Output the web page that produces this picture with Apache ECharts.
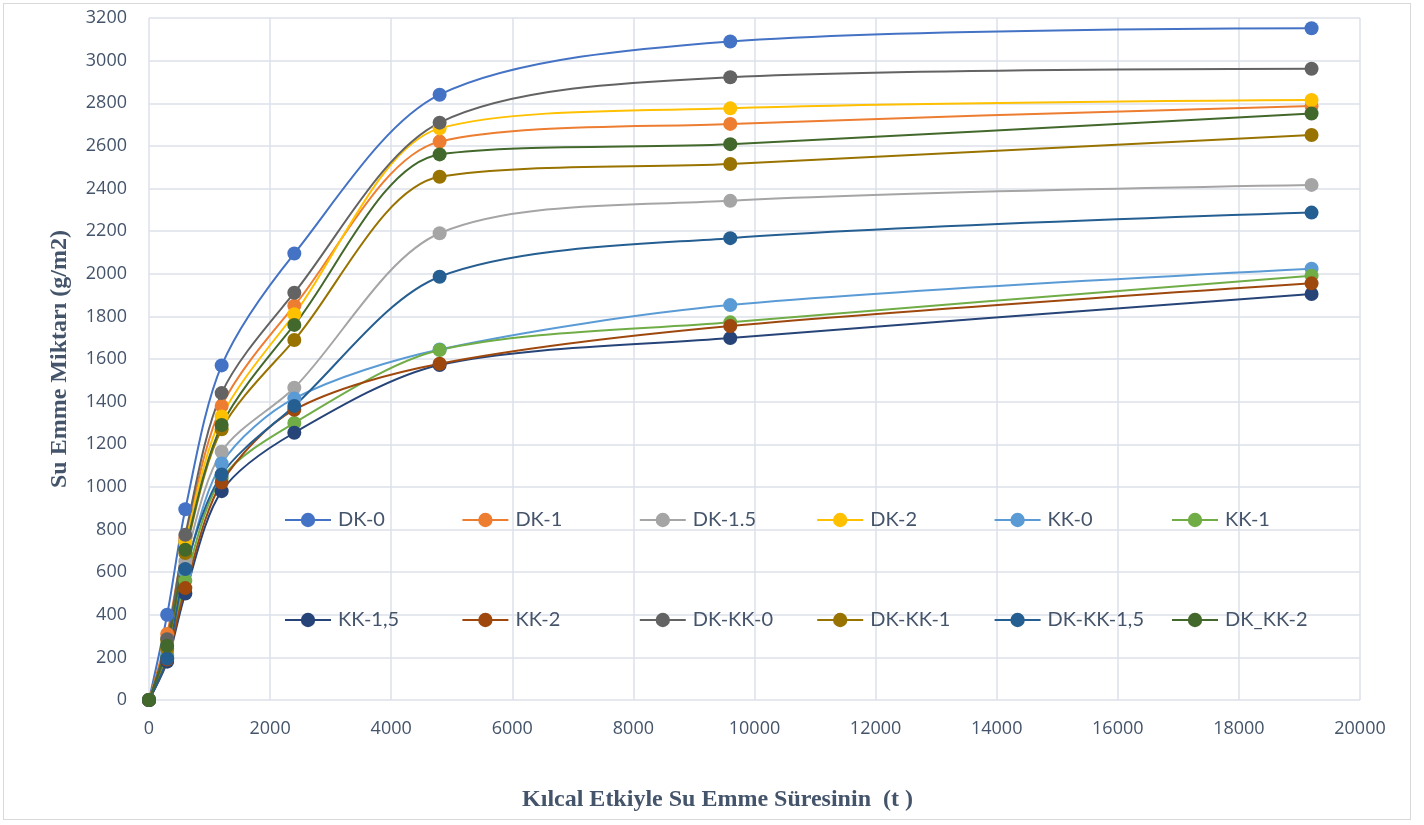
<!DOCTYPE html>
<html><head><meta charset="utf-8">
<script src="https://cdn.jsdelivr.net/npm/echarts@6/dist/echarts.min.js"></script>
<style>html,body{margin:0;padding:0;background:#fff}#c{width:1424px;height:825px}#frame{position:absolute;left:3px;top:3px;width:1406px;height:815px;border:1px solid #d9d9d9;pointer-events:none}</style>
</head><body><div id="c"></div><div id="frame"></div>
<script>
const times = [0, 300, 600, 1200, 2400, 4800, 9600, 19200];
const seriesNames = ['DK-0','DK-1','DK-1.5','DK-2','KK-0','KK-1','KK-1,5','KK-2','DK-KK-0','DK-KK-1','DK-KK-1,5','DK_KK-2'];
const DK0   = [0, 400, 895, 1570, 2095, 2840, 3090, 3152];
const DK1   = [0, 310, 760, 1380, 1850, 2620, 2703, 2787];
const DK15  = [0, 230, 650, 1165, 1465, 2190, 2342, 2417];
const DK2   = [0, 280, 740, 1330, 1810, 2682, 2776, 2815];
const KK0   = [0, 210, 600, 1110, 1415, 1645, 1853, 2024];
const KK1   = [0, 200, 560, 1040, 1300, 1642, 1772, 1991];
const KK15  = [0, 180, 500, 980, 1254, 1572, 1698, 1905];
const KK2   = [0, 190, 525, 1020, 1362, 1578, 1755, 1955];
const DKKK0 = [0, 285, 775, 1440, 1911, 2709, 2922, 2962];
const DKKK1 = [0, 240, 690, 1270, 1689, 2455, 2515, 2651];
const DKKK15= [0, 195, 615, 1058, 1380, 1986, 2167, 2287];
const DKKK2 = [0, 255, 705, 1290, 1760, 2560, 2608, 2752];
const allValues = [DK0, DK1, DK15, DK2, KK0, KK1, KK15, KK2, DKKK0, DKKK1, DKKK15, DKKK2];
const colors = ['#4472C4','#ED7D31','#A5A5A5','#FFC000','#5B9BD5','#70AD47','#264478','#9E480E','#636363','#997300','#255E91','#43682B'];
const xTitle = 'Kılcal Etkiyle Su Emme Süresinin  (t )';
const yTitle = 'Su Emme Miktarı (g/m2)';

const series = seriesNames.map((n, i) => ({
  name: n, type: 'line', smooth: 0.3,
  data: times.map((t, j) => [t, allValues[i][j]]),
  symbol: 'circle', symbolSize: 14,
  lineStyle: {width: 2, color: colors[i]},
  itemStyle: {color: colors[i]},
  emphasis: {disabled: true}
}));

const chart = echarts.init(document.getElementById('c'));
chart.setOption({
  animation: false,
  color: colors,
  grid: {left: 149, right: 64, top: 18, bottom: 125},
  legend: seriesNames.map((n, i) => ({
    data: [n],
    left: 279 + (i % 6) * 177.4,
    top: (i < 6 ? 505 : 605),
    itemWidth: 46, itemHeight: 18, itemGap: 0,
    textStyle: {fontFamily: 'Lato', fontSize: 20, color: '#44546A', padding: [0, 0, 0, 2]},
    selectedMode: false
  })),
  xAxis: {
    type: 'value', min: 0, max: 20000, interval: 2000,
    name: xTitle, nameLocation: 'middle', nameGap: 88,
    nameTextStyle: {fontFamily: 'Liberation Serif', fontWeight: 'bold', fontSize: 24, color: '#44546A', padding: [0, 74, 0, 0]},
    axisLine: {show: false}, axisTick: {show: false},
    axisLabel: {fontFamily: 'Open Sans', fontSize: 18, color: '#44546A', margin: 20, formatter: v => String(v)},
    splitLine: {show: true, lineStyle: {color: '#dde1e8', width: 1.5}}
  },
  yAxis: {
    type: 'value', min: 0, max: 3200, interval: 200,
    name: yTitle, nameLocation: 'middle', nameGap: 77,
    nameTextStyle: {fontFamily: 'Liberation Serif', fontWeight: 'bold', fontSize: 24, color: '#44546A'},
    axisLine: {show: false}, axisTick: {show: false},
    axisLabel: {fontFamily: 'Open Sans', fontSize: 18, color: '#44546A', margin: 22, formatter: v => String(v)},
    splitLine: {show: true, lineStyle: {color: '#dde1e8', width: 1.5}}
  },
  series: series
});
</script></body></html>
